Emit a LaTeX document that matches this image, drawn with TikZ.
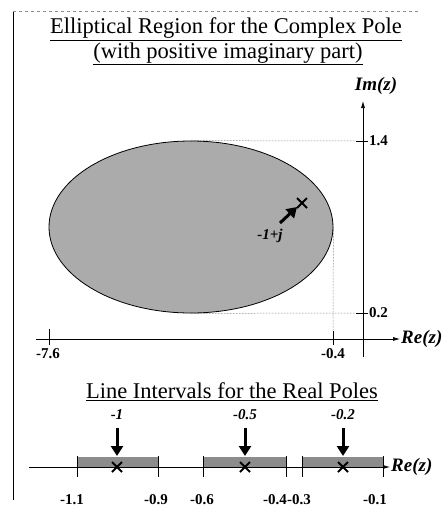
\documentclass[tikz,border=0pt]{standalone}
\usepackage{fontspec}
\setmainfont{Liberation Serif}
\usetikzlibrary{arrows.meta,shapes.geometric,calc}
\begin{document}
\begin{tikzpicture}[x=1pt,y=-1pt,
  axisline/.style={line width=0.7pt,-{Latex[length=7pt,width=4pt]}},
  tickline/.style={line width=1pt},
  guide/.style={densely dotted,line width=0.5pt,black!70},
  fatarrow/.style={line width=3pt,-{Triangle[length=10pt,width=12pt]}},
  ttl/.style={font=\fontsize{22.5}{26}\selectfont,inner sep=1pt},
  axlabel/.style={font=\fontsize{19}{22}\selectfont\bfseries\itshape,inner sep=1pt},
  numlabel/.style={font=\fontsize{15}{17}\selectfont\bfseries,inner sep=1pt},
  polelabel/.style={font=\fontsize{15}{17}\selectfont\bfseries\itshape,inner sep=1pt},
  crossmark/.style={line width=1.8pt},
  intervalbox/.style={draw=none,fill=black!45}
]
\useasboundingbox (0,0) rectangle (447,507);
% frame lines
\coordinate (bl) at (13,500);
\coordinate (tl) at (13,11);
\coordinate (tr) at (420,11);
\draw[line width=0.8pt] (tl) -- (bl);
\draw[black!45,dashed,line width=0.5pt] (tl) -- (tr);
% titles
\node[ttl] (t1) at (226,29) {\underline{Elliptical Region for the Complex Pole}};
\node[ttl] (t2) at (228,54) {\underline{(with positive imaginary part)}};
% ellipse
\node[draw,line width=0.8pt,fill=black!33,ellipse,minimum width=284,minimum height=172,inner sep=0] (ell) at (191,227) {};
% axes
\coordinate (vbot) at (363,357);
\coordinate (vtop) at (363,101);
\draw[axisline] (vbot) -- (vtop);
\node[axlabel] (im) at (376,86) {Im(z)};
\coordinate (hleft) at (36,339);
\coordinate (hright) at (400,339);
\draw[axisline] (hleft) -- (hright);
\node[axlabel,anchor=west] (re) at (400,339) {Re(z)};
% ticks
\coordinate (t14a) at (356,141); \coordinate (t14b) at (368,141);
\draw[tickline] (t14a) -- (t14b);
\node[numlabel,anchor=west] (l14) at (368,141) {1.4};
\coordinate (t02a) at (356,313); \coordinate (t02b) at (368,313);
\draw[tickline] (t02a) -- (t02b);
\node[numlabel,anchor=west] (l02) at (368,313) {0.2};
\coordinate (t76a) at (49,329); \coordinate (t76b) at (49,345);
\draw[tickline] (t76a) -- (t76b);
\node[numlabel] (l76) at (48,354) {-7.6};
\coordinate (t04a) at (333,331); \coordinate (t04b) at (333,345);
\draw[tickline] (t04a) -- (t04b);
\node[numlabel] (l04) at (333,354) {-0.4};
% guides
\draw[guide] (ell.north) -- (t14a);
\draw[guide] (ell.south) -- (t02a);
\draw[guide] (ell.east) -- (t04a);
% pole
\coordinate (pole) at (302,203);
\draw[crossmark] ($(pole)+(-5,-5)$) -- ($(pole)+(5,5)$);
\draw[crossmark] ($(pole)+(-5,5)$) -- ($(pole)+(5,-5)$);
\coordinate (pa) at (280,223);
\coordinate (pb) at (297,207);
\draw[fatarrow] (pa) -- (pb);
\node[polelabel] (pl) at (270,236) {-1+j};
% lower part
\node[ttl] (t3) at (232,392) {\underline{Line Intervals for the Real Poles}};
\coordinate (lleft) at (29,467);
\coordinate (lright) at (390,467);
\fill[intervalbox] (77,457) rectangle (158,467);
\fill[intervalbox] (203,457) rectangle (286,467);
\fill[intervalbox] (302,457) rectangle (383,467);
\draw[axisline] (lleft) -- (lright);
\node[axlabel,anchor=west] (re2) at (390,467) {Re(z)};
\foreach \x/\lab/\lx in {77/-1.1/72,158/-0.9/156,203/-0.6/202,286/-0.4/275,302/-0.3/299,383/-0.1/375}{
  \draw[tickline] (\x,456) -- (\x,477);
  \node[numlabel] at (\lx,500) {\lab};
}
\foreach \x/\lab in {117/-1,245/-0.5,343/-0.2}{
  \draw[crossmark] (\x-5,462) -- (\x+5,472);
  \draw[crossmark] (\x-5,472) -- (\x+5,462);
  \draw[fatarrow] (\x,428) -- (\x,456);
  \node[polelabel] at (\x,415) {\lab};
}
\end{tikzpicture}
\end{document}
